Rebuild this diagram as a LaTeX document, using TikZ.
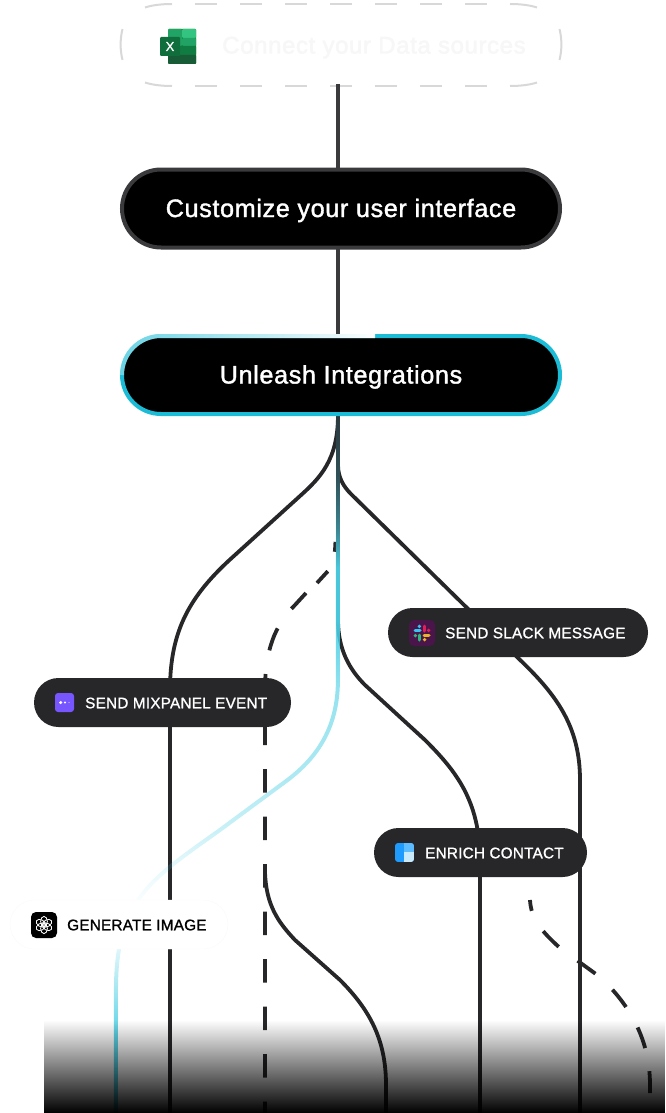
\documentclass[tikz,border=0pt]{standalone}
\usepackage{fontspec}
\usetikzlibrary{fadings}
\newfontfamily\bigfont[FakeBold=1.5,LetterSpace=2.5]{Liberation Sans}
\newfontfamily\tagfont[FakeBold=1.2,LetterSpace=1.5]{Liberation Sans}

\definecolor{track}{HTML}{27272A}
\definecolor{stem}{HTML}{3A3A3D}
\definecolor{glow}{HTML}{1CBCD6}
\definecolor{glowline}{HTML}{4CCFE4}
\definecolor{ghost}{HTML}{D8D8D8}

\tikzfading[name=fadedown, top color=transparent!100, bottom color=transparent!0]
\tikzfading[name=fadeedge, left color=transparent!65, right color=transparent!0]
\pgfdeclareverticalshading{glowmask}{100bp}{
  color(0bp)=(transparent!0); color(25bp)=(transparent!0);
  color(30.9bp)=(transparent!10); color(34.5bp)=(transparent!55);
  color(36.7bp)=(transparent!80); color(40.3bp)=(transparent!97);
  color(42.4bp)=(transparent!88); color(45.3bp)=(transparent!70);
  color(48.85bp)=(transparent!55); color(55.3bp)=(transparent!40);
  color(60.3bp)=(transparent!5); color(63.9bp)=(transparent!5);
  color(66.76bp)=(transparent!45); color(70.34bp)=(transparent!75);
  color(75bp)=(transparent!90); color(100bp)=(transparent!90)}
\pgfdeclarefading{glowfade}{\pgfuseshading{glowmask}}

\tikzset{
  bigpill/.style={rounded corners=39, minimum width=438, minimum height=78, inner sep=0,
    text height=23, text depth=6, line width=4,
    font=\bigfont\fontsize{25.2}{28}\selectfont, text=white, fill=black},
  tagpill/.style={rounded corners=24.5, minimum height=49, inner sep=0, fill=track},
  taglabel/.style={anchor=west, inner sep=0, font=\tagfont\fontsize{15.3}{18}\selectfont, text=white},
  wire/.style={draw=track, line width=3.8},
  dashwire/.style={wire, dash pattern=on 23.5 off 24},
  ghostline/.style={draw=ghost, line width=2}
}

\begin{document}
\begin{tikzpicture}[x=1pt, y=-1pt]
  \useasboundingbox (0,0) rectangle (666,1113);

  % ends of the tracks
  \coordinate (hub)     at (338,415);
  \coordinate (endA)    at (170,1113);
  \coordinate (endB)    at (265,1113);
  \coordinate (endC)    at (386,1113);
  \coordinate (endD)    at (480,1113);
  \coordinate (endE)    at (580,1113);
  \coordinate (endF)    at (650,1113);
  \coordinate (endGlow) at (116,1113);
  \coordinate (fork)    at (265,864);

  % tracks
  \draw[wire] (hub) .. controls (338,460) and (320,478) .. (300,496) -- (235,555)
    .. controls (190,595) and (170,630) .. (170,690) -- (endA);
  \draw[wire] (hub) -- (338,465) .. controls (338,478) and (344,487) .. (351,494) -- (517,657)
    .. controls (555,693) and (580,725) .. (580,780) -- (endE);
  \draw[wire] (hub) -- (338,620) .. controls (338,650) and (350,670) .. (365,685) -- (425,740)
    .. controls (455,770) and (480,800) .. (480,860) -- (endD);
  \draw[dashwire, dash phase=12] (endB) -- (265,690) .. controls (265,650) and (275,625) .. (295,605)
    -- (306,593);
  \draw[wire, dash pattern=on 16 off 21 on 10 off 40] (317,583) -- (328,571)
    .. controls (333,565) and (335,558) .. (335.5,540);
  \draw[wire] (fork) -- (265,872) .. controls (266,905) and (278,922) .. (295,940) -- (340,980)
    .. controls (370,1010) and (386,1040) .. (386,1085) -- (endC);
  \draw[wire, dash pattern=on 22 off 23.5, dash phase=11] (530,900)
    .. controls (531,918) and (540,930) .. (560,948) -- (600,977)
    .. controls (630,1005) and (650,1040) .. (650,1085) -- (endF);
  \draw[draw=glowline, line width=4, path fading=glowfade] (hub) -- (338,680)
    .. controls (338,730) and (315,760) .. (285,782) -- (220,830)
    .. controls (150,880) and (116,900) .. (116,990) -- (endGlow);

  % stems
  \draw[stem, line width=4] (338,248) -- (338,336);

  % main pills
  \node[bigpill, draw=stem] (customize) at (341,208.5) {Customize your user interface};
  \node[bigpill, draw=glow] (unleash) at (341,375) {Unleash Integrations};
  \draw[white, line width=4, path fading=fadeedge, rounded corners=39]
    (122,375) -- (122,336) -- (375,336);
  \node[bigpill, fill=white, minimum width=440, minimum height=80, rounded corners=40,
    text=black!3, font=\bigfont\fontsize{24}{28}\selectfont] (source) at (341,45)
    {\hspace{66pt}Connect your Data sources};

  % dashes of the source pill
  \draw[ghostline, dash pattern=on 22 off 23] (195,4) -- (487,4) (195,86) -- (487,86);
  \draw[ghostline] (145,7.5) .. controls (151,5.5) and (160,4) .. (172,4);
  \draw[ghostline] (510,4) .. controls (522,4) and (531,5.5) .. (537,7.5);
  \draw[ghostline] (145,82.5) .. controls (151,84.5) and (160,86) .. (172,86);
  \draw[ghostline] (510,86) .. controls (522,86) and (531,84.5) .. (537,82.5);
  \draw[ghostline] (122.5,29) .. controls (120,39) and (120,50) .. (122.5,60);
  \draw[ghostline] (559.5,29) .. controls (562,39) and (562,50) .. (559.5,60);

  \draw[stem, line width=4] (338,84) -- (customize.north -| 338,0);

  % tag pills
  \node[tagpill, minimum width=257] (mixpanel) at (162.5,702.5) {};
  \node[taglabel] (mixpanelText) at (85,703) {SEND MIXPANEL EVENT};
  \node[tagpill, minimum width=260] (slack) at (518,632.5) {};
  \node[taglabel] (slackText) at (445,633) {SEND SLACK MESSAGE};
  \node[tagpill, minimum width=213] (enrich) at (480.5,852.5) {};
  \node[taglabel] (enrichText) at (425,853) {ENRICH CONTACT};
  \node[tagpill, minimum width=218, fill=white, draw=black!2] (genimage) at (119,924.5) {};
  \node[taglabel, text=black] (genimageText) at (67,925) {GENERATE IMAGE};

  % excel icon
  \begin{scope}[rounded corners=1]
    \fill[green!50!black] (168,29) rectangle (196,64);
    \fill[color={rgb,255:red,33;green,163;blue,102}] (168,29) rectangle (182,46);
    \fill[color={rgb,255:red,51;green,196;blue,129}] (182,29) rectangle (196,38);
    \fill[color={rgb,255:red,33;green,163;blue,102}] (182,38) rectangle (196,46);
    \fill[color={rgb,255:red,16;green,124;blue,65}] (168,46) rectangle (196,55);
    \fill[color={rgb,255:red,24;green,92;blue,55}] (168,55) rectangle (196,64);
    \fill[color={rgb,255:red,16;green,110;blue,60}] (160,37) rectangle (180,56);
  \end{scope}
  \node[inner sep=0, text=white, font=\tagfont\fontsize{13}{13}\selectfont] (excelX) at (170,46.5) {X};

  % slack icon
  \fill[color={rgb,255:red,74;green,21;blue,75}, rounded corners=5] (409,620) rectangle (435,646);
  \begin{scope}[shift={(422,633)}, line width=3, line cap=round]
    \foreach \ang/\col in {0/{rgb,255:red,54;green,197;blue,240},
                           90/{rgb,255:red,46;green,182;blue,125},
                           180/{rgb,255:red,236;green,178;blue,46},
                           270/{rgb,255:red,224;green,30;blue,90}} {
      \begin{scope}[rotate=\ang]
        \draw[color=\col] (-7,-2.3) -- (-2,-2.3);
        \fill[color=\col] (-2.6,-6.6) circle (1.9);
      \end{scope}
    }
  \end{scope}

  % mixpanel icon
  \fill[color={rgb,255:red,120;green,86;blue,255}, rounded corners=3] (55,693) rectangle (74,712);
  \fill[white] (60.7,702.5) circle (1.7) (65,702.5) circle (1.1) (69,702.5) circle (.5);

  % enrich icon
  \begin{scope}
    \clip[rounded corners=3] (395,843) rectangle (414,862);
    \fill[color={rgb,255:red,30;green,155;blue,253}] (395,843) rectangle (414,862);
    \fill[color={rgb,255:red,92;green,188;blue,255}] (404,843) rectangle (414,852);
    \fill[color={rgb,255:red,201;green,234;blue,250}] (404,852) rectangle (414,862);
  \end{scope}

  % openai icon
  \fill[black, rounded corners=5] (31,912) rectangle (57,938);
  \begin{scope}[shift={(44,925)}]
    \foreach \ang in {0,60,...,300}
      \draw[white, line width=.8, rotate=\ang] (0,-3.6) ellipse (3.4 and 5);
  \end{scope}

  % fade at the foot
  \fill[black, path fading=fadedown] (44,1020) rectangle (666,1113);
\end{tikzpicture}
\end{document}
